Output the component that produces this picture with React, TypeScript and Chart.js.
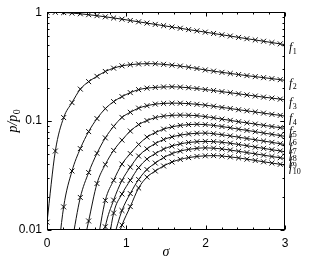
import React, { useEffect, useRef } from 'react';
import { Chart, registerables } from 'chart.js';

Chart.register(...registerables);

// sigma values of the sampled points (last point = right edge, no marker)
const SIGMA = [0, 0.105, 0.21, 0.315, 0.42, 0.525, 0.63, 0.735, 0.84, 0.945, 1.05, 1.155, 1.26, 1.365, 1.47, 1.575, 1.68, 1.785, 1.89, 1.995, 2.1, 2.205, 2.31, 2.415, 2.52, 2.625, 2.73, 2.835, 2.94, 3.0];

const F1 = [1.0, 0.998, 0.992, 0.981, 0.967, 0.949, 0.929, 0.907, 0.885, 0.863, 0.839, 0.816, 0.794, 0.773, 0.752, 0.731, 0.712, 0.692, 0.674, 0.656, 0.638, 0.620, 0.604, 0.587, 0.571, 0.556, 0.541, 0.526, 0.512, 0.503];
const F2 = [0.0118, 0.0531, 0.1077, 0.1478, 0.1966, 0.2304, 0.2576, 0.2857, 0.3063, 0.3216, 0.3298, 0.3348, 0.3369, 0.3362, 0.3320, 0.3264, 0.3202, 0.3128, 0.3038, 0.2949, 0.2875, 0.2803, 0.2739, 0.2676, 0.2614, 0.2560, 0.2506, 0.2454, 0.2402, 0.2367];
const F3 = [null, 0.0035, 0.0163, 0.0348, 0.0559, 0.0801, 0.1054, 0.1302, 0.1510, 0.1678, 0.1826, 0.1945, 0.2008, 0.2038, 0.2060, 0.2068, 0.2051, 0.2025, 0.1991, 0.1950, 0.1909, 0.1865, 0.1822, 0.1780, 0.1739, 0.1699, 0.1660, 0.1626, 0.1591, 0.1571];
const F4 = [null, null, null, 0.0078, 0.0199, 0.0337, 0.0506, 0.0701, 0.0894, 0.1081, 0.1204, 0.1316, 0.1384, 0.1432, 0.1453, 0.1462, 0.1459, 0.1447, 0.1426, 0.1402, 0.1370, 0.1336, 0.1305, 0.1272, 0.1243, 0.1212, 0.1184, 0.1154, 0.1128, 0.1111];
const F5 = [null, null, null, null, 0.0053, 0.0121, 0.0267, 0.0399, 0.0538, 0.0669, 0.0810, 0.0929, 0.1011, 0.1077, 0.1111, 0.1130, 0.1135, 0.1132, 0.1123, 0.1100, 0.1072, 0.1043, 0.1015, 0.0987, 0.0963, 0.0939, 0.0915, 0.0892, 0.0870, 0.0857];
const F6 = [null, null, null, null, null, null, 0.0073, 0.0187, 0.0286, 0.0403, 0.0503, 0.0611, 0.0713, 0.0784, 0.0844, 0.0885, 0.0913, 0.0929, 0.0935, 0.0929, 0.0913, 0.0892, 0.0868, 0.0844, 0.0822, 0.0799, 0.0777, 0.0756, 0.0736, 0.0725];
const F7 = [null, null, null, null, null, null, 0.0035, 0.0107, 0.0188, 0.0285, 0.0378, 0.0478, 0.0556, 0.0622, 0.0677, 0.0716, 0.0744, 0.0763, 0.0773, 0.0776, 0.0766, 0.0750, 0.0731, 0.0712, 0.0692, 0.0674, 0.0656, 0.0638, 0.0620, 0.0610];
const F8 = [null, null, null, null, null, null, null, 0.0048, 0.0143, 0.0214, 0.0286, 0.0374, 0.0448, 0.0503, 0.0553, 0.0590, 0.0618, 0.0636, 0.0647, 0.0651, 0.0648, 0.0639, 0.0626, 0.0610, 0.0594, 0.0577, 0.0562, 0.0546, 0.0532, 0.0523];
const F9 = [null, null, null, null, null, null, null, null, 0.0085, 0.0151, 0.0216, 0.0291, 0.0359, 0.0412, 0.0462, 0.0503, 0.0531, 0.0550, 0.0562, 0.0568, 0.0564, 0.0555, 0.0542, 0.0528, 0.0514, 0.0500, 0.0487, 0.0473, 0.0461, 0.0453];
const F10 = [null, null, null, null, null, null, null, null, 0.0066, 0.0111, 0.0164, 0.0243, 0.0306, 0.0348, 0.0387, 0.0421, 0.0445, 0.0462, 0.0474, 0.0480, 0.0482, 0.0478, 0.0469, 0.0459, 0.0447, 0.0435, 0.0423, 0.0412, 0.0401, 0.0394];

const SERIES = [F1, F2, F3, F4, F5, F6, F7, F8, F9, F10];
const SERIES_SUB = ['1', '2', '3', '4', '5', '6', '7', '8', '9', '10'];

const X_TICKS = [0, 1, 2, 3];
const Y_TICKS = [0.01, 0.1, 1];
const X_TITLE = 'σ';
const Y_TITLE_MAIN = 'p/p';
const Y_TITLE_SUB = '0';

const SERIF = '"Liberation Serif", "DejaVu Serif", serif';
const SANS = '"Liberation Sans", Arial, sans-serif';

const decoPlugin = {
  id: 'deco',
  afterDraw(chart: any) {
    const { ctx, chartArea: a, scales } = chart;
    const xs = scales.x;
    const ys = scales.y;
    ctx.save();
    ctx.strokeStyle = '#000';
    ctx.lineWidth = 1;
    const L = Math.round(a.left) + 0.5;
    const R = Math.round(a.right) - 0.5;
    const T = Math.round(a.top) + 0.5;
    const B = Math.round(a.bottom) - 0.5;
    ctx.strokeRect(L, T, R - L, B - T);

    ctx.beginPath();
    // x ticks (inward, bottom and top), minor every 0.2
    for (let i = 0; i <= 15; i++) {
      const v = i * 0.2;
      const px = Math.round(xs.getPixelForValue(v)) + 0.5;
      const major = X_TICKS.some((t) => Math.abs(t - v) < 1e-6);
      const len = major ? 4 : 2;
      ctx.moveTo(px, B); ctx.lineTo(px, B - len);
      ctx.moveTo(px, T); ctx.lineTo(px, T + len);
    }
    // y ticks (log minor)
    for (let d = 0; d < 2; d++) {
      for (let m = 1; m <= 10; m++) {
        const v = Y_TICKS[d] * m;
        const py = Math.round(ys.getPixelForValue(v)) + 0.5;
        const major = m === 1 || m === 10;
        const len = major ? 4 : 2;
        ctx.moveTo(L, py); ctx.lineTo(L + len, py);
        ctx.moveTo(R, py); ctx.lineTo(R - len, py);
      }
    }
    ctx.stroke();

    ctx.fillStyle = '#000';
    // series labels at right
    chart.data.datasets.forEach((ds: any, i: number) => {
      const last = ds.data[ds.data.length - 1];
      const py = ys.getPixelForValue(last.y) + 3;
      const x0 = a.right + 4;
      ctx.font = `italic 12px ${SERIF}`;
      ctx.textAlign = 'left';
      ctx.textBaseline = 'middle';
      ctx.fillText('f', x0, py);
      const w = ctx.measureText('f').width;
      ctx.font = `8px ${SERIF}`;
      ctx.fillText(SERIES_SUB[i], x0 + w + 0.5, py + 4);
    });

    // x title
    ctx.font = `italic 14px ${SERIF}`;
    ctx.textAlign = 'center';
    ctx.textBaseline = 'middle';
    ctx.fillText(X_TITLE, (a.left + a.right) / 2, 252);

    // y title rotated
    ctx.translate(13, (a.top + a.bottom) / 2);
    ctx.rotate(-Math.PI / 2);
    ctx.font = `italic 14px ${SERIF}`;
    const w1 = ctx.measureText(Y_TITLE_MAIN).width;
    ctx.font = `10px ${SERIF}`;
    const w2 = ctx.measureText(Y_TITLE_SUB).width;
    const start = -(w1 + w2) / 2;
    ctx.textAlign = 'left';
    ctx.textBaseline = 'middle';
    ctx.font = `italic 14px ${SERIF}`;
    ctx.fillText(Y_TITLE_MAIN, start, 0);
    ctx.font = `10px ${SERIF}`;
    ctx.fillText(Y_TITLE_SUB, start + w1 + 0.5, 4);
    ctx.restore();
  },
};

export default function App() {
  const ref = useRef<HTMLCanvasElement | null>(null);

  useEffect(() => {
    if (!ref.current) return;
    const lastIdx = SIGMA.length - 1;
    const datasets = SERIES.map((s, i) => ({
      label: 'f' + SERIES_SUB[i],
      data: SIGMA.map((x, j) => ({ x, y: s[j] })),
      borderColor: '#111',
      borderWidth: 1,
      pointStyle: 'crossRot',
      pointRadius: (c: any) => (c.dataIndex === lastIdx ? 0 : 3.5),
      pointBorderColor: '#111',
      pointBorderWidth: 1,
      pointBackgroundColor: '#111',
      cubicInterpolationMode: 'monotone' as const,
      spanGaps: false,
      fill: false,
    }));

    const chart = new Chart(ref.current, {
      type: 'line',
      data: { datasets },
      options: {
        responsive: false,
        maintainAspectRatio: false,
        devicePixelRatio: 1,
        animation: false,
        layout: { padding: { left: 0, top: 12, right: 26, bottom: 0 } },
        plugins: { legend: { display: false }, tooltip: { enabled: false } },
        scales: {
          x: {
            type: 'linear',
            min: 0,
            max: 3,
            grid: { display: false, drawTicks: false },
            border: { display: false },
            ticks: {
              stepSize: 1,
              color: '#000',
              font: { family: SANS, size: 12 },
              padding: 6,
              maxRotation: 0,
            },
            afterFit: (s: any) => { s.height = 30; },
          },
          y: {
            type: 'logarithmic',
            min: 0.01,
            max: 1,
            grid: { display: false, drawTicks: false },
            border: { display: false },
            ticks: {
              color: '#000',
              font: { family: SANS, size: 12 },
              padding: 5,
              callback: (v: any) => String(v),
            },
            afterBuildTicks: (s: any) => { s.ticks = Y_TICKS.map((v) => ({ value: v })); },
            afterFit: (s: any) => { s.width = 47; },
          },
        },
      },
      plugins: [decoPlugin],
    });
    return () => chart.destroy();
  }, []);

  return (
    <div style={{ position: 'absolute', left: 0, top: 0, width: 311, height: 260, background: '#fff' }}>
      <canvas ref={ref} width={311} height={260} style={{ display: 'block', width: 311, height: 260 }} />
    </div>
  );
}
